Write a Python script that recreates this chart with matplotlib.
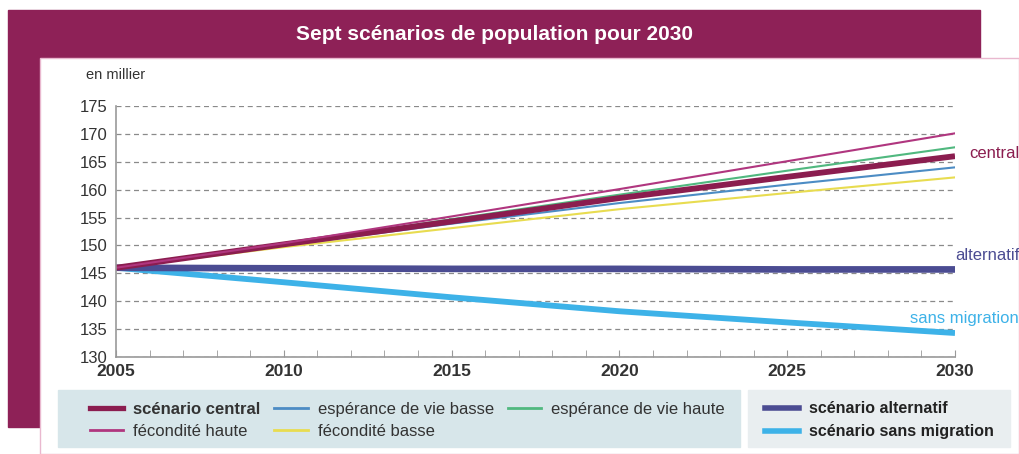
import matplotlib.pyplot as plt
from matplotlib.patches import Rectangle
from matplotlib.lines import Line2D
from matplotlib.ticker import MultipleLocator

plt.rcParams['font.family'] = ['Liberation Sans', 'DejaVu Sans']

# population en milliers
years = [2005, 2010, 2015, 2020, 2025, 2030]
central = [146, 150.2, 154.3, 158.5, 162.3, 166]
fec_haute = [146, 150.4, 155.2, 160.1, 165.1, 170.1]
fec_basse = [146, 149.7, 153.1, 156.5, 159.4, 162.2]
vie_basse = [146, 150, 153.9, 157.6, 160.9, 164]
vie_haute = [146, 150.3, 154.7, 159.1, 163.4, 167.6]
alternatif = [146, 145.9, 145.8, 145.8, 145.7, 145.7]
sans_migration = [146, 143.4, 140.7, 138.2, 136.2, 134.3]

W, H = 1019, 454
fig = plt.figure(figsize=(W / 100, H / 100), dpi=100)

def px(x0, y0, x1, y1):
    # pixel box (top-left origin) -> figure fraction rect
    return (x0 / W, 1 - y1 / H), (x1 - x0) / W, (y1 - y0) / H

xy, w, h = px(8, 10, 980, 427)
fig.patches.append(Rectangle(xy, w, h, transform=fig.transFigure, color='#8E2157', zorder=0))
xy, w, h = px(40, 58, 1019, 454)
fig.patches.append(Rectangle(xy, w, h, transform=fig.transFigure, facecolor='white',
                             edgecolor='#e9b8cf', lw=1, zorder=0.5))
fig.text(494 / W, 1 - 35 / H, 'Sept scénarios de population pour 2030', color='white',
         fontsize=15, fontweight='bold', ha='center', va='center')
fig.text(86 / W, 1 - 75 / H, 'en millier', fontsize=10.5, color='#333333', ha='left', va='center')

ax = fig.add_axes([116 / W, 1 - 357 / H, (955 - 116) / W, (357 - 106) / H])
ax.set_zorder(1)
ax.set_facecolor('none')

ax.plot(years, sans_migration, color='#3DB2E8', lw=4.2, solid_capstyle='butt')
ax.plot(years, alternatif, color='#4B4C92', lw=4.8, solid_capstyle='butt')
ax.plot(years, fec_basse, color='#E8DC50', lw=1.5)
ax.plot(years, vie_basse, color='#4C8CC4', lw=1.5)
ax.plot(years, vie_haute, color='#50B87F', lw=1.5)
ax.plot(years, central, color='#8B1D4F', lw=4.2, solid_capstyle='butt')
ax.plot(years, fec_haute, color='#B0367F', lw=1.5)

ax.set_xlim(2005, 2030)
ax.set_ylim(130, 175)
ax.set_yticks(range(130, 176, 5))
ax.xaxis.set_major_locator(MultipleLocator(5))
ax.xaxis.set_minor_locator(MultipleLocator(1))
ax.yaxis.grid(True, ls=(0, (4, 3)), color='#8a8a8a', lw=0.9)
ax.set_axisbelow(True)
for s in ['top', 'right']:
    ax.spines[s].set_visible(False)
for s in ['left', 'bottom']:
    ax.spines[s].set_color('#999999')
    ax.spines[s].set_linewidth(1.2)
ax.tick_params(axis='y', length=0, pad=6, labelsize=12, labelcolor='#333333')
ax.tick_params(axis='x', which='both', direction='in', length=5, color='#999999',
               pad=5, labelsize=12.5, labelcolor='#333333')
for lab in ax.get_xticklabels():
    lab.set_fontweight('bold')

fig.text(1019 / W, 1 - 153 / H, 'central', color='#8B1D4F',
         fontsize=12, ha='right', va='center')
fig.text(1019 / W, 1 - 256 / H, 'alternatif', color='#4B4C92',
         fontsize=12, ha='right', va='center')
fig.text(1019 / W, 1 - 318 / H, 'sans migration', color='#3DB2E8',
         fontsize=12, ha='right', va='center')

# legend panels
xy, w, h = px(58, 390, 740, 447)
fig.patches.append(Rectangle(xy, w, h, transform=fig.transFigure, color='#d7e6ea', zorder=0.6))
xy, w, h = px(748, 390, 1010, 447)
fig.patches.append(Rectangle(xy, w, h, transform=fig.transFigure, color='#e9eef0', zorder=0.6))

h1 = [Line2D([], [], color='#8B1D4F', lw=3.8), Line2D([], [], color='#B0367F', lw=2),
      Line2D([], [], color='#4C8CC4', lw=2), Line2D([], [], color='#E8DC50', lw=2),
      Line2D([], [], color='#50B87F', lw=2)]
l1 = ['scénario central', 'fécondité haute', 'espérance de vie basse', 'fécondité basse',
      'espérance de vie haute']
leg1 = fig.legend(h1, l1, ncol=3, loc='upper left', bbox_to_anchor=(78 / W, 1 - 390 / H),
                  frameon=False, fontsize=12, handlelength=2.0, handletextpad=0.6,
                  columnspacing=0.85, labelspacing=0.45, borderpad=0.2)
leg1.get_texts()[0].set_fontweight('bold')
for t in leg1.get_texts():
    t.set_color('#333333')

h2 = [Line2D([], [], color='#4B4C92', lw=4), Line2D([], [], color='#3DB2E8', lw=4)]
l2 = ['scénario alternatif', 'scénario sans migration']
leg2 = fig.legend(h2, l2, loc='upper left', bbox_to_anchor=(754 / W, 1 - 390 / H),
                  frameon=False, fontsize=11.5, handlelength=2.1, handletextpad=0.65,
                  labelspacing=0.5, borderpad=0.2)
for t in leg2.get_texts():
    t.set_fontweight('bold')
    t.set_color('#222222')

fig.savefig('out.png', dpi=100)
